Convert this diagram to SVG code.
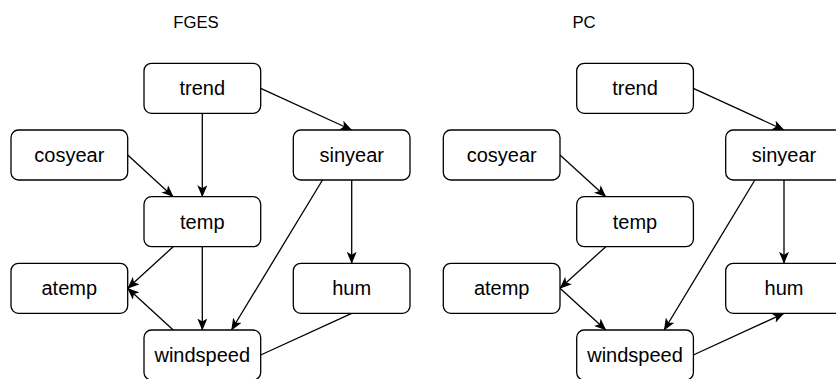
<svg xmlns="http://www.w3.org/2000/svg" width="836" height="379" viewBox="0 0 836 379">
<style>
.n rect{fill:#fff;stroke:#000;stroke-width:1.3}
.n text{font-family:"Liberation Sans",Arial,sans-serif;font-size:20px;fill:#000;text-anchor:middle}
.t{font-family:"Liberation Sans",Arial,sans-serif;font-size:16.7px;fill:#000;text-anchor:middle}
#edges line{stroke:#000;stroke-width:1.3;fill:none}
.a{marker-end:url(#arr)}
</style>
<defs>
<marker id="arr" viewBox="0 0 12 10" refX="11.5" refY="5" markerWidth="12" markerHeight="10" markerUnits="userSpaceOnUse" orient="auto">
<path d="M0,0 L12,5 L0,10 L3,5 Z" fill="#000"/>
</marker>
</defs>
<rect width="836" height="379" fill="#fff"/>
<text class="t" x="196" y="27.5">FGES</text>
<text class="t" x="584" y="27.5">PC</text>
<g id="edges">
<line class="a" x1="260.7" y1="88.3" x2="351.7" y2="130"/>
<line class="a" x1="202.3" y1="113.3" x2="202.3" y2="196.7"/>
<line class="a" x1="127.7" y1="155" x2="173.2" y2="196.7"/>
<line class="a" x1="322.5" y1="180" x2="231.5" y2="330"/>
<line class="a" x1="351.7" y1="180" x2="351.7" y2="263.3"/>
<line class="a" x1="173.2" y1="246.7" x2="127.7" y2="288.3"/>
<line class="a" x1="202.3" y1="246.7" x2="202.3" y2="330"/>
<line class="a" x1="173.2" y1="330" x2="127.7" y2="288.3"/>
<line x1="351.7" y1="313.3" x2="260.7" y2="355"/>
<line class="a" x1="693.3" y1="88.3" x2="784" y2="130"/>
<line class="a" x1="560" y1="155" x2="605.8" y2="196.7"/>
<line class="a" x1="605.8" y1="246.7" x2="560" y2="288.3"/>
<line class="a" x1="560" y1="288.3" x2="605.8" y2="330"/>
<line class="a" x1="754.9" y1="180" x2="664.2" y2="330"/>
<line class="a" x1="784" y1="180" x2="784" y2="263.3"/>
<line class="a" x1="693.3" y1="355" x2="784" y2="313.3"/>
</g>
<g id="fges-trend" class="n"><rect x="144" y="63.3" width="116.7" height="50" rx="7.5"/><text x="202.3" y="95.3">trend</text></g>
<g id="fges-cosyear" class="n"><rect x="11" y="130" width="116.7" height="50" rx="7.5"/><text x="69.3" y="162">cosyear</text></g>
<g id="fges-sinyear" class="n"><rect x="293.3" y="130" width="116.7" height="50" rx="7.5"/><text x="351.7" y="162">sinyear</text></g>
<g id="fges-temp" class="n"><rect x="144" y="196.7" width="116.7" height="50" rx="7.5"/><text x="202.3" y="228.7">temp</text></g>
<g id="fges-atemp" class="n"><rect x="11" y="263.3" width="116.7" height="50" rx="7.5"/><text x="69.3" y="295.3">atemp</text></g>
<g id="fges-hum" class="n"><rect x="293.3" y="263.3" width="116.7" height="50" rx="7.5"/><text x="351.7" y="295.3">hum</text></g>
<g id="fges-windspeed" class="n"><rect x="144" y="330" width="116.7" height="50" rx="7.5"/><text x="202.3" y="362">windspeed</text></g>
<g id="pc-trend" class="n"><rect x="576.7" y="63.3" width="116.7" height="50" rx="7.5"/><text x="635" y="95.3">trend</text></g>
<g id="pc-cosyear" class="n"><rect x="443.3" y="130" width="116.7" height="50" rx="7.5"/><text x="501.7" y="162">cosyear</text></g>
<g id="pc-sinyear" class="n"><rect x="725.7" y="130" width="116.7" height="50" rx="7.5"/><text x="784" y="162">sinyear</text></g>
<g id="pc-temp" class="n"><rect x="576.7" y="196.7" width="116.7" height="50" rx="7.5"/><text x="635" y="228.7">temp</text></g>
<g id="pc-atemp" class="n"><rect x="443.3" y="263.3" width="116.7" height="50" rx="7.5"/><text x="501.7" y="295.3">atemp</text></g>
<g id="pc-hum" class="n"><rect x="725.7" y="263.3" width="116.7" height="50" rx="7.5"/><text x="784" y="295.3">hum</text></g>
<g id="pc-windspeed" class="n"><rect x="576.7" y="330" width="116.7" height="50" rx="7.5"/><text x="635" y="362">windspeed</text></g>
</svg>
